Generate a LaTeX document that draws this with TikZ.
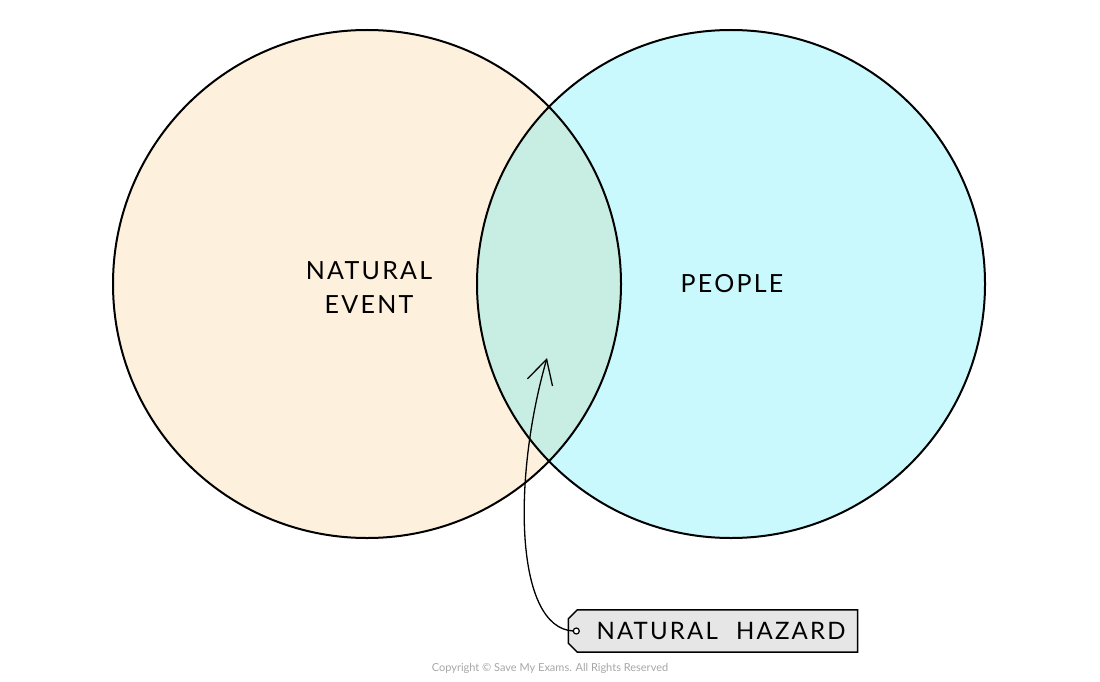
\documentclass[tikz,border=0pt]{standalone}
\usepackage{fontspec}
\setmainfont{Lato}
\newfontfamily\handfont[LetterSpace=9]{Lato}
\usetikzlibrary{arrows.meta,calc,positioning}
\definecolor{eventfill}{HTML}{FDF0DC}
\definecolor{peoplefill}{HTML}{C9F8FD}
\definecolor{overlapfill}{HTML}{C8EEE4}
\definecolor{tagfill}{HTML}{E6E6E6}
\begin{document}
\begin{tikzpicture}[x=1pt,y=-1pt,>={Straight Barb[length=24pt,width=26pt]}]
	\tikzstyle{set} = [circle, minimum size=508pt, inner sep=0pt]
	\tikzstyle{outline} = [draw, line width=2pt]
	\tikzstyle{settext} = [align=center, font=\handfont\fontsize{25}{34}\selectfont]
	\tikzstyle{tagtext} = [minimum width=289pt, minimum height=42pt, inner sep=0pt, font=\handfont\fontsize{24}{28}\selectfont]
	
	\useasboundingbox (0,0) rectangle (1100,682);
	
	% the two sets
	\node [set, fill=eventfill] (event) at (367,284) {};
	\node [set, fill=peoplefill] (people) at (731,284) {};
	\begin{scope}
		\clip (event.center) circle (254pt);
		\fill [overlapfill] (people.center) circle (254pt);
	\end{scope}
	\draw [outline] (event.center) circle (254pt);
	\draw [outline] (people.center) circle (254pt);
	
	\node [settext] (eventtext) at ($(event.center)+(2,4)$) {NATURAL\\EVENT};
	\node [settext] (peopletext) at ($(people.center)+(1,0)$) {PEOPLE};
	
	% tag for the overlap
	\node [tagtext] (hazard) at (713,631) {};
	\draw [line width=1.5pt, fill=tagfill]
		($(hazard.north west)+(9,0)$) -- (hazard.north east) -- (hazard.south east)
		-- ($(hazard.south west)+(9,0)$) -- ($(hazard.south west)+(0,-9)$)
		-- ($(hazard.north west)+(0,9)$) -- cycle;
	\node [tagtext] at (hazard) {\hspace*{16pt}NATURAL\hspace{10pt} HAZARD};
	\coordinate (hole) at ($(hazard.west)+(8,0)$);
	\draw [line width=1.2pt, fill=white] (hole) circle (3pt);
	
	\coordinate (tip) at (547,358);
	\draw [->, line width=1.3pt] ($(hole)+(-3,0)$) .. controls (515,628) and (512,480) .. (tip);
	
	\node [text=gray!70, font=\fontsize{11}{13}\selectfont] (copyright) at (550,668) {Copyright © Save My Exams. All Rights Reserved};
	
\end{tikzpicture}
\end{document}
